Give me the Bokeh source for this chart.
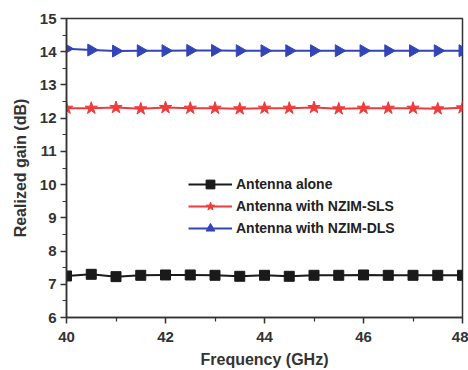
import numpy as np
from bokeh.plotting import figure
from bokeh.models import Legend, LegendItem, FixedTicker, Range1d
from bokeh.embed import file_html
from bokeh.resources import INLINE

freq = [40.0, 40.5, 41.0, 41.5, 42.0, 42.5, 43.0, 43.5, 44.0, 44.5, 45.0, 45.5, 46.0, 46.5, 47.0, 47.5, 48.0]
alone = [7.25, 7.30, 7.23, 7.27, 7.28, 7.28, 7.27, 7.24, 7.27, 7.24, 7.27, 7.27, 7.28, 7.27, 7.27, 7.27, 7.27]
sls = [12.30, 12.30, 12.32, 12.28, 12.32, 12.30, 12.30, 12.28, 12.30, 12.30, 12.32, 12.28, 12.30, 12.30, 12.30, 12.28, 12.31]
dls = [14.09, 14.05, 14.02, 14.03, 14.03, 14.04, 14.04, 14.03, 14.03, 14.03, 14.03, 14.03, 14.03, 14.03, 14.03, 14.03, 14.03]
names = ["Antenna alone", "Antenna with NZIM-SLS", "Antenna with NZIM-DLS"]
x_ticks = [40, 42, 44, 46, 48]
y_ticks = [6, 7, 8, 9, 10, 11, 12, 13, 14, 15]

FONT = "Liberation Sans"

p = figure(width=468, height=370, output_backend="svg", toolbar_location=None,
           x_range=Range1d(40, 48), y_range=Range1d(6, 15),
           min_border_left=66, min_border_right=6, min_border_top=18, min_border_bottom=49)
p.grid.visible = False
p.outline_line_color = "#333333"
p.outline_line_width = 1.5
p.background_fill_color = "white"
p.border_fill_color = "white"

for ax, ticks in ((p.xaxis[0], x_ticks), (p.yaxis[0], y_ticks)):
    ax.ticker = FixedTicker(ticks=ticks, minor_ticks=[t + 0.5 * (ticks[1] - ticks[0]) for t in ticks[:-1]])
    ax.major_tick_out = 6
    ax.major_tick_in = 0
    ax.minor_tick_out = 4
    ax.minor_tick_in = 0
    ax.axis_line_width = 1.5
    ax.axis_line_color = "#333333"
    ax.major_tick_line_color = "#333333"
    ax.minor_tick_line_color = "#333333"
    ax.major_tick_line_width = 1.5
    ax.minor_tick_line_width = 1.2
    ax.major_label_text_font = FONT
    ax.major_label_text_font_style = "bold"
    ax.major_label_text_font_size = "15px"
    ax.major_label_text_color = "#333333"
    ax.axis_label_text_font = FONT
    ax.axis_label_text_font_style = "bold"
    ax.axis_label_text_font_size = "16px"
    ax.axis_label_text_color = "#333333"

p.xaxis.axis_label = "Frequency (GHz)"
p.yaxis.axis_label = "Realized gain (dB)"
p.xaxis.major_label_standoff = 8
p.yaxis.major_label_standoff = 4
p.xaxis.axis_label_standoff = 6
p.yaxis.axis_label_standoff = 8

colors = ["#1a1a1a", "#ee3b3b", "#3344b8"]
l1 = p.line(freq, alone, line_color=colors[0], line_width=2)
m1 = p.scatter(freq, alone, marker="square", size=10, fill_color=colors[0], line_color=colors[0])
l2 = p.line(freq, sls, line_color=colors[1], line_width=2)
m2 = p.scatter(freq, sls, marker="star", size=13, fill_color=colors[1], line_color=colors[1])
l3 = p.line(freq, dls, line_color=colors[2], line_width=2)
m3 = p.scatter(freq, dls, marker="triangle", angle=-90, angle_units="deg", size=12,
               fill_color=colors[2], line_color=colors[2])

legend = Legend(items=[LegendItem(label=names[0], renderers=[l1, m1]),
                       LegendItem(label=names[1], renderers=[l2, m2]),
                       LegendItem(label=names[2], renderers=[l3, m3])],
                location=(122, 78), border_line_color=None, background_fill_alpha=0,
                label_text_font=FONT, label_text_font_style="bold", label_text_font_size="14px",
                label_text_color="#222222", glyph_width=44, glyph_height=22, spacing=-1,
                padding=2, margin=0, label_standoff=4)
p.add_layout(legend)

open("out.html", "w").write(file_html(p, INLINE))
